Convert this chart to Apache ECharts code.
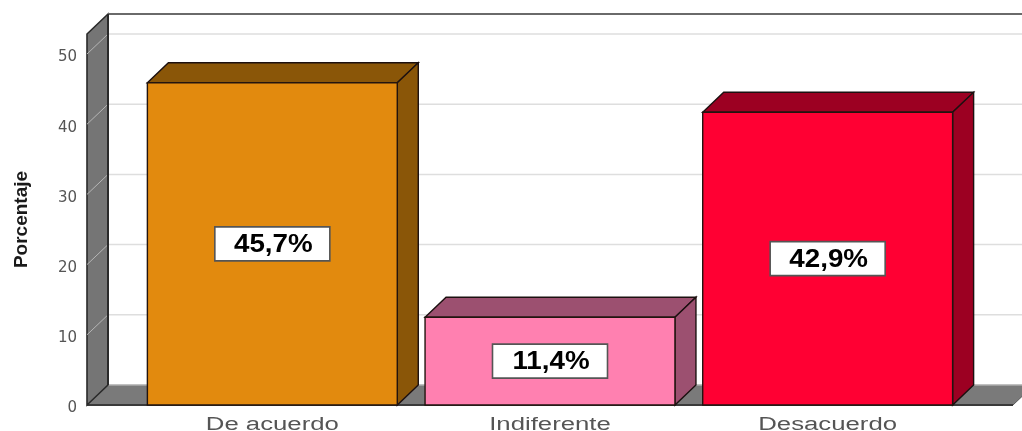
<!DOCTYPE html>
<html>
<head>
<meta charset="utf-8">
<style>html,body{margin:0;padding:0;background:#fff}#c{width:1022px;height:431px}</style>
<script src="https://cdn.jsdelivr.net/npm/echarts@6/dist/echarts.min.js"></script>
</head>
<body>
<div id="c"></div>
<script>
const categories = ['De acuerdo', 'Indiferente', 'Desacuerdo'];
// Bar heights as drawn in the picture, read against the axis.
// They differ slightly from the printed labels below, as they do in the reference.
const barHeights = [45.9, 12.5, 41.7];
// Labels as printed on the bars.
const barLabels = ['45,7%', '11,4%', '42,9%'];
const yTicks = [10, 20, 30, 40, 50];
const faceColors = ['#E28A0E', '#FF80B0', '#FF0033'];
const sideColors = ['#8A5608', '#9C5070', '#9C0022'];

const DX = 21, DY = -20, MARGIN = 46.5;
const chart = echarts.init(document.getElementById('c'), null, {renderer: 'canvas'});

function poly(points, fill, stroke, lw) {
  return {type: 'polygon', shape: {points}, style: {fill, stroke, lineWidth: lw === undefined ? 1.4 : lw}};
}
function line(points, stroke, lw) {
  return {type: 'polyline', shape: {points}, style: {fill: null, stroke, lineWidth: lw}};
}

function renderFrame(params, api) {
  const r = params.coordSys;
  const L = r.x - MARGIN, R = r.x + r.width + MARGIN;
  const T = r.y, B = r.y + r.height;
  const children = [
    poly([[L, B], [L + DX, B + DY], [R + DX, B + DY], [R, B]], '#7A7A7A', '#5a5a5a', 1),
    line([[L + DX, B + DY], [R + DX, B + DY]], '#d5d5d5', 1),
    line([[L, B], [R, B]], '#3a3a3a', 2),
    poly([[L, B], [L, T], [L + DX, T + DY], [L + DX, B + DY]], '#757575', '#2a2a2a', 1.6),
    line([[L + DX, T + DY], [R + DX, T + DY]], '#6a6a6a', 1.8)
  ];
  yTicks.forEach(function (t) {
    const y = api.coord([0, t])[1];
    children.push(line([[L + DX, y + DY], [R + DX, y + DY]], '#dedede', 1.5));
    children.push(line([[L, y], [L + DX, y + DY]], '#b5b5b5', 1));
  });
  children.push(line([[L + DX, T + DY], [L + DX, B + DY]], '#2a2a2a', 2));
  return {type: 'group', children};
}

function renderBar(params, api) {
  const i = params.dataIndex;
  const base = api.coord([api.value(0), 0]);
  const top = api.coord([api.value(0), api.value(1)]);
  const w = api.size([1, 0])[0] * 0.9;
  const x0 = base[0] - w / 2, x1 = base[0] + w / 2;
  const yB = base[1], yT = top[1];
  const midY = (yB + yT) / 2;
  const bw = 115, bh = 34;
  return {type: 'group', children: [
    poly([[x0, yT], [x0 + DX, yT + DY], [x1 + DX, yT + DY], [x1, yT]], sideColors[i], '#1c1010'),
    poly([[x1, yT], [x1 + DX, yT + DY], [x1 + DX, yB + DY], [x1, yB]], sideColors[i], '#1c1010'),
    {type: 'rect', shape: {x: x0, y: yT, width: w, height: yB - yT},
     style: {fill: faceColors[i], stroke: '#22140f', lineWidth: 1.4}},
    {type: 'rect', shape: {x: base[0] - bw / 2, y: midY - bh / 2, width: bw, height: bh},
     style: {fill: '#fff', stroke: '#555', lineWidth: 1.6}},
    {type: 'text', x: base[0] + 1, y: midY + 1, scaleX: 1.11,
     style: {text: barLabels[i], fill: '#000', font: 'bold 25px "Liberation Sans"',
             textAlign: 'center', textVerticalAlign: 'middle'}},
    {type: 'text', x: base[0], y: yB + 20, scaleX: 1.43,
     style: {text: categories[i], fill: '#555', font: '18px "Liberation Sans"',
             textAlign: 'center', textVerticalAlign: 'middle'}}
  ]};
}

chart.setOption({
  animation: false,
  backgroundColor: '#fff',
  grid: {left: 133.5, right: 55.5, top: 34, bottom: 26, containLabel: false},
  xAxis: {type: 'category', data: categories, axisLine: {show: false}, axisTick: {show: false}, axisLabel: {show: false}},
  yAxis: {
    type: 'value', min: 0, max: 52.85, interval: 10, offset: MARGIN,
    name: 'Porcentaje', nameLocation: 'middle', nameGap: 56, nameRotate: 90,
    nameTextStyle: {fontFamily: 'Liberation Sans', fontWeight: 'bold', fontSize: 19, color: '#1a1a1a'},
    axisLine: {show: false}, axisTick: {show: false}, splitLine: {show: false},
    axisLabel: {margin: 10, fontFamily: 'DejaVu Sans', fontSize: 15, color: '#555', showMaxLabel: false, showMinLabel: true,
      verticalAlign: 'top', verticalAlignMinLabel: 'top', lineHeight: 7}
  },
  series: [
    {type: 'custom', coordinateSystem: 'cartesian2d', clip: false, silent: true, z: 1, renderItem: renderFrame, data: [[0, 0]]},
    {type: 'custom', coordinateSystem: 'cartesian2d', clip: false, silent: true, z: 2, renderItem: renderBar,
     encode: {x: 0, y: 1}, data: categories.map(function (c, i) { return [i, barHeights[i]]; })}
  ]
});
</script>
</body>
</html>
